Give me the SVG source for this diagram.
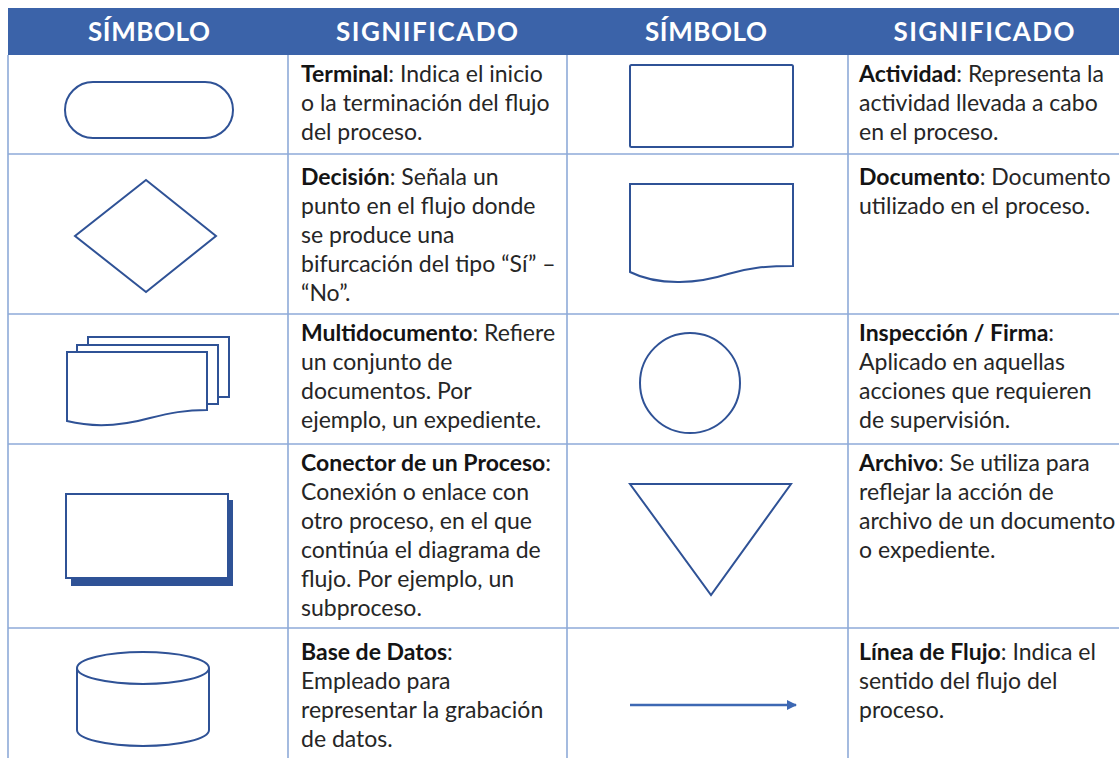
<svg xmlns="http://www.w3.org/2000/svg" width="1119" height="758" viewBox="0 0 1119 758">
<style>
.hd{font-family:Lato,"Open Sans","Liberation Sans",sans-serif;font-weight:bold;font-size:26px;fill:#ffffff;text-anchor:middle}
.tx{font-family:Lato,"Open Sans","Liberation Sans",sans-serif;font-size:23px;fill:#262626}
.b{font-weight:bold;fill:#141414}
.grid{stroke:#8eaad8;stroke-width:1.6;fill:none}
.sh{fill:#ffffff;stroke:#2f5296;stroke-width:2}
</style>
<defs>
<marker id="ah" viewBox="0 0 10 10" refX="9" refY="5" markerWidth="4" markerHeight="4" orient="auto" markerUnits="strokeWidth">
<path d="M0,0 L10,5 L0,10 z" fill="#3d68b3"/>
</marker>
</defs>
<rect width="1119" height="758" fill="#ffffff"/>
<g id="header">
<rect x="8" y="8" width="1111" height="47" fill="#3b63a9"/>
<text class="hd" x="149" y="41" textLength="122" lengthAdjust="spacing">SÍMBOLO</text>
<text class="hd" x="427" y="41" textLength="182" lengthAdjust="spacing">SIGNIFICADO</text>
<text class="hd" x="706" y="41" textLength="122" lengthAdjust="spacing">SÍMBOLO</text>
<text class="hd" x="984" y="41" textLength="181" lengthAdjust="spacing">SIGNIFICADO</text>
</g>
<g id="grid" class="grid">
<line x1="8" y1="55" x2="8" y2="758"/>
<line x1="288" y1="55" x2="288" y2="758"/>
<line x1="567" y1="55" x2="567" y2="758"/>
<line x1="848" y1="55" x2="848" y2="758"/>
<line x1="8" y1="154" x2="1119" y2="154"/>
<line x1="8" y1="314" x2="1119" y2="314"/>
<line x1="8" y1="444" x2="1119" y2="444"/>
<line x1="8" y1="628" x2="1119" y2="628"/>
</g>
<g id="terminal">
<rect class="sh" x="65" y="82" width="168" height="56" rx="28" ry="28"/>
<text class="tx" x="301" y="82"><tspan class="b">Terminal</tspan>: Indica el inicio</text>
<text class="tx" x="301" y="111">o la terminación del flujo</text>
<text class="tx" x="301" y="140">del proceso.</text>
</g>
<g id="actividad">
<rect class="sh" x="630" y="65" width="163" height="82" rx="1.5"/>
<text class="tx" x="859" y="82"><tspan class="b">Actividad</tspan>: Representa la</text>
<text class="tx" x="859" y="111">actividad llevada a cabo</text>
<text class="tx" x="859" y="140">en el proceso.</text>
</g>
<g id="decision">
<polygon class="sh" points="146,180 216,236 146,292 75,236"/>
<text class="tx" x="301" y="185"><tspan class="b">Decisión</tspan>: Señala un</text>
<text class="tx" x="301" y="214">punto en el flujo donde</text>
<text class="tx" x="301" y="243">se produce una</text>
<text class="tx" x="301" y="272">bifurcación del tipo “Sí” –</text>
<text class="tx" x="301" y="301">“No”.</text>
</g>
<g id="documento">
<path class="sh" d="M630,184 H793 V266 C765,266 748,268 728,274 C700,283 660,287 630,272 Z"/>
<text class="tx" x="859" y="185"><tspan class="b">Documento</tspan>: Documento</text>
<text class="tx" x="859" y="214">utilizado en el proceso.</text>
</g>
<g id="multidocumento">
<path class="sh" d="M88,345 V337 H229 V397 H218" stroke-width="2.5"/>
<path class="sh" d="M77,352 V345 H218 V404 H207" stroke-width="2.5"/>
<path class="sh" d="M67,352 H207 V410 C185,410 170,413 150,418 C125,425 95,428 67,421 Z"/>
<text class="tx" x="301" y="341"><tspan class="b">Multidocumento</tspan>: Refiere</text>
<text class="tx" x="301" y="370">un conjunto de</text>
<text class="tx" x="301" y="399">documentos. Por</text>
<text class="tx" x="301" y="428">ejemplo, un expediente.</text>
</g>
<g id="inspeccion">
<circle class="sh" cx="690" cy="383" r="50"/>
<text class="tx" x="859" y="341"><tspan class="b">Inspección / Firma</tspan>:</text>
<text class="tx" x="859" y="370">Aplicado en aquellas</text>
<text class="tx" x="859" y="399">acciones que requieren</text>
<text class="tx" x="859" y="428">de supervisión.</text>
</g>
<g id="conector">
<rect x="71" y="500" width="162" height="86" fill="#2f5296"/>
<rect class="sh" x="66" y="494" width="162" height="84"/>
<text class="tx" x="301" y="471"><tspan class="b">Conector de un Proceso</tspan>:</text>
<text class="tx" x="301" y="500">Conexión o enlace con</text>
<text class="tx" x="301" y="529">otro proceso, en el que</text>
<text class="tx" x="301" y="558">continúa el diagrama de</text>
<text class="tx" x="301" y="587">flujo. Por ejemplo, un</text>
<text class="tx" x="301" y="616">subproceso.</text>
</g>
<g id="archivo">
<polygon class="sh" points="630,484 791,484 711,595"/>
<text class="tx" x="859" y="471"><tspan class="b">Archivo</tspan>: Se utiliza para</text>
<text class="tx" x="859" y="500">reflejar la acción de</text>
<text class="tx" x="859" y="529">archivo de un documento</text>
<text class="tx" x="859" y="558">o expediente.</text>
</g>
<g id="basedatos">
<path class="sh" d="M77,668 V730 A66,16 0 0 0 209,730 V668"/>
<ellipse class="sh" cx="143" cy="668" rx="66" ry="16"/>
<text class="tx" x="301" y="660"><tspan class="b">Base de Datos</tspan>:</text>
<text class="tx" x="301" y="689">Empleado para</text>
<text class="tx" x="301" y="718">representar la grabación</text>
<text class="tx" x="301" y="747">de datos.</text>
</g>
<g id="connectors">
<line x1="630" y1="705" x2="796" y2="705" stroke="#3d68b3" stroke-width="2.5" marker-end="url(#ah)"/>
</g>
<g id="lineaflujo">
<text class="tx" x="859" y="660"><tspan class="b">Línea de Flujo</tspan>: Indica el</text>
<text class="tx" x="859" y="689">sentido del flujo del</text>
<text class="tx" x="859" y="718">proceso.</text>
</g>
</svg>
